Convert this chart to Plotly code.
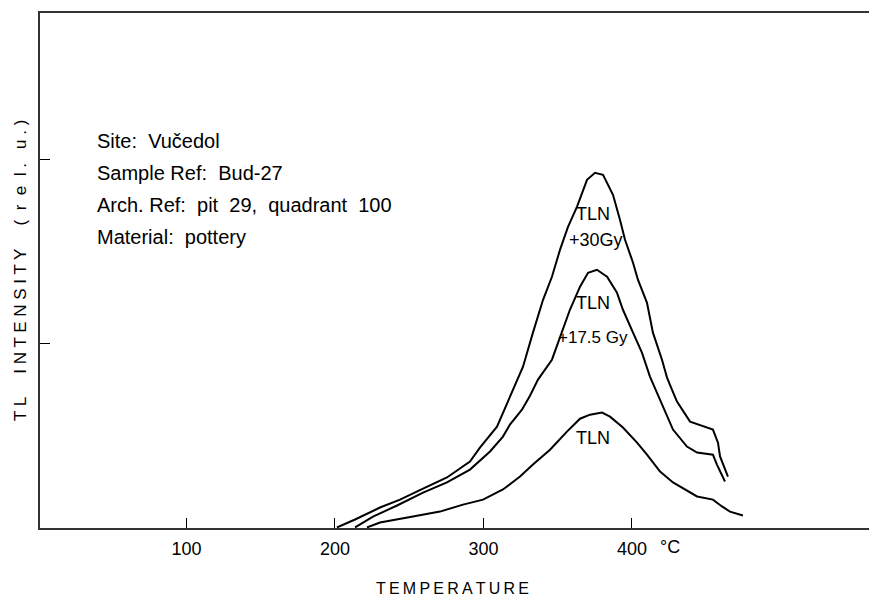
import plotly.graph_objects as go

# TL glow curves (temperature in °C, intensity in relative units)
t_30 = [201.3, 213.5, 230.3, 243.8, 259.3, 275.4, 290.9, 297.6, 309.1, 314.5, 319.2, 322.6,
        326.6, 333.3, 340.1, 346.1, 351.5, 356.9, 363.0, 369.7, 375.1, 380.5, 387.2, 391.9,
        395.3, 400.7, 404.0, 410.1, 414.1, 420.2, 423.6, 426.9, 430.3, 439.1, 454.5, 457.9,
        459.3, 464.6]
i_30 = [0.003, 0.046, 0.111, 0.154, 0.214, 0.274, 0.360, 0.436, 0.550, 0.653, 0.734, 0.805,
        0.875, 1.060, 1.238, 1.363, 1.509, 1.634, 1.743, 1.889, 1.927, 1.916, 1.808, 1.672,
        1.564, 1.439, 1.347, 1.222, 1.060, 0.913, 0.816, 0.751, 0.686, 0.577, 0.534, 0.463,
        0.388, 0.279]

t_175 = [213.5, 225.6, 241.8, 259.3, 275.4, 290.9, 304.4, 313.1, 317.8, 325.9, 331.3, 336.7,
         346.1, 352.9, 358.2, 365.0, 370.4, 376.4, 383.2, 389.9, 393.9, 400.7, 406.7, 412.1,
         418.9, 427.6, 437.0, 443.8, 454.5, 457.2, 462.6]
i_175 = [0.003, 0.062, 0.122, 0.192, 0.247, 0.317, 0.415, 0.496, 0.561, 0.642, 0.718, 0.805,
         0.913, 1.060, 1.184, 1.309, 1.385, 1.401, 1.363, 1.276, 1.184, 1.060, 0.951, 0.821,
         0.697, 0.534, 0.442, 0.409, 0.398, 0.344, 0.252]

t_n = [221.5, 230.3, 252.5, 270.7, 286.2, 299.7, 313.1, 324.6, 333.3, 344.8, 356.2, 365.0,
       371.7, 379.8, 385.2, 393.9, 403.4, 410.1, 418.9, 427.6, 443.8, 454.5, 460.6, 466.0,
       474.7]
i_n = [0.003, 0.030, 0.062, 0.089, 0.127, 0.154, 0.209, 0.279, 0.344, 0.425, 0.523, 0.593,
       0.615, 0.626, 0.604, 0.545, 0.463, 0.398, 0.306, 0.247, 0.171, 0.154, 0.117, 0.089,
       0.068]

x_ticks = [100, 200, 300, 400]
x_tick_labels = ["100", "200", "300", "400"]
y_ticks = [1, 2]

info_lines = ["Site:  Vučedol", "Sample Ref:  Bud-27",
              "Arch. Ref:  pit  29,  quadrant  100", "Material:  pottery"]

FONT = "Liberation Sans"
fig = go.Figure()
for t, i in [(t_30, i_30), (t_175, i_175), (t_n, i_n)]:
    fig.add_trace(go.Scatter(x=t, y=i, mode="lines",
                             line=dict(color="black", width=2),
                             showlegend=False, hoverinfo="skip"))

fig.update_layout(
    width=869, height=598,
    margin=dict(l=40, r=0, t=13, b=70),
    paper_bgcolor="white", plot_bgcolor="white",
    font=dict(family=FONT, size=18, color="black"),
    xaxis=dict(range=[1.35, 559.6], showgrid=False, zeroline=False,
               tickvals=x_ticks, ticktext=x_tick_labels,
               ticks="inside", ticklen=10, tickwidth=1, tickcolor="black",
               showline=True, linecolor="#333", linewidth=1.5, mirror=True,
               ticklabelstandoff=4, tickfont=dict(size=18)),
    yaxis=dict(range=[0, 2.794], showgrid=False, zeroline=False,
               tickvals=y_ticks, showticklabels=False,
               ticks="inside", ticklen=10, tickwidth=1, tickcolor="black",
               showline=True, linecolor="#333", linewidth=1.5),
)

ann = []
ys = [0.751, 0.689, 0.627, 0.565]
for txt, yy in zip(info_lines, ys):
    ann.append(dict(x=0.0663, y=yy, xref="paper", yref="paper", text=txt,
                    showarrow=False, xanchor="left", yanchor="middle",
                    font=dict(size=20)))
for txt, x, y, s in [("TLN", 373.7, 1.705, 18), ("+30Gy", 375.8, 1.564, 18),
                     ("TLN", 373.7, 1.222, 18), ("+17.5 Gy", 373.7, 1.033, 17),
                     ("TLN", 373.7, 0.491, 18)]:
    ann.append(dict(x=x, y=y, xref="x", yref="y", text=txt, showarrow=False,
                    font=dict(size=s)))
ann.append(dict(x=425.6, y=0, xref="x", yref="paper", text="°C", showarrow=False,
                yanchor="middle", yshift=-19, font=dict(size=18)))
ann.append(dict(x=0.5, y=0, xref="paper", yref="paper",
                text="T\u2009E\u2009M\u2009P\u2009E\u2009R\u2009A\u2009T\u2009U\u2009R\u2009E",
                showarrow=False, xanchor="center", yanchor="middle",
                xshift=-2, yshift=-60, font=dict(size=16)))
ann.append(dict(x=0, y=0.5, xref="paper", yref="paper",
                text="T L     I N T E N S I T Y     (  r  e  l .   u . )", showarrow=False,
                textangle=-90, xshift=-31, font=dict(size=17)))
fig.update_layout(annotations=ann)

fig.write_html("out.html", config={"displayModeBar": False},
               post_script="document.body.style.margin='0';document.body.style.overflow='hidden';")
